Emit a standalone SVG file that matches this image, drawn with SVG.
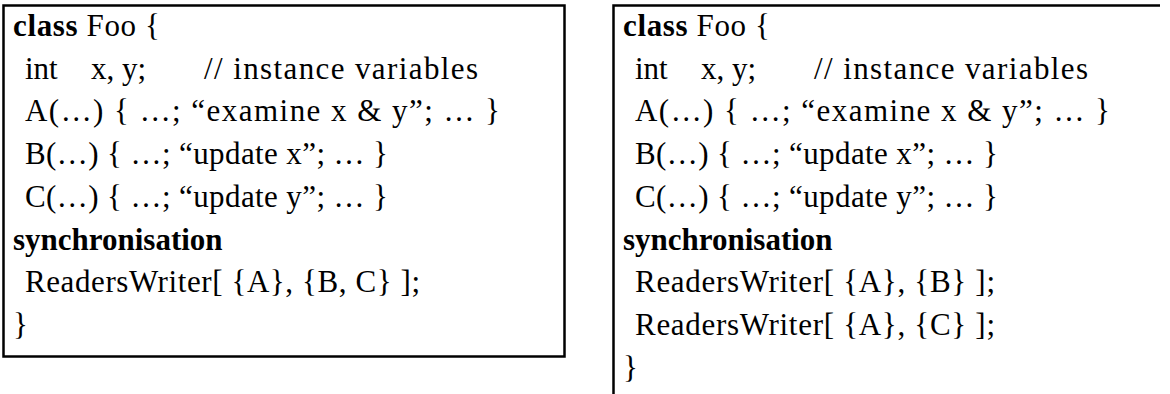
<svg xmlns="http://www.w3.org/2000/svg" width="1170" height="394" viewBox="0 0 1170 394">
<style>
.t{font-family:"Liberation Serif","Times New Roman",serif;font-size:31px;fill:#000}
.b{font-weight:bold}
.bd{fill:none;stroke:#000;stroke-width:2.5}
</style>
<rect width="1170" height="394" fill="#fff"/>
<g id="left">
<rect class="bd" x="3.5" y="5.5" width="561" height="351"/>
<text class="t" x="13" y="36" textLength="147" lengthAdjust="spacing"><tspan class="b">class</tspan> Foo {</text>
<text class="t" x="25" y="78.7">int</text>
<text class="t" x="91" y="78.7">x, y;</text>
<text class="t" x="204" y="78.7" textLength="274" lengthAdjust="spacing">// instance variables</text>
<text class="t" x="25" y="121.4" textLength="475" lengthAdjust="spacing">A(…) { …; “examine x &amp; y”; … }</text>
<text class="t" x="25" y="164" textLength="363" lengthAdjust="spacing">B(…) { …; “update x”; … }</text>
<text class="t" x="25" y="206.8" textLength="363" lengthAdjust="spacing">C(…) { …; “update y”; … }</text>
<text class="t b" x="13" y="249.5">synchronisation</text>
<text class="t" x="25" y="292" textLength="395" lengthAdjust="spacing">ReadersWriter[ {A}, {B, C} ];</text>
<text class="t" x="13" y="335">}</text>
</g>
<g id="right">
<path class="bd" d="M613.5 394V5.5H1160"/>
<text class="t" x="623" y="36" textLength="147" lengthAdjust="spacing"><tspan class="b">class</tspan> Foo {</text>
<text class="t" x="635" y="78.7">int</text>
<text class="t" x="701" y="78.7">x, y;</text>
<text class="t" x="814" y="78.7" textLength="274" lengthAdjust="spacing">// instance variables</text>
<text class="t" x="635" y="121.4" textLength="475" lengthAdjust="spacing">A(…) { …; “examine x &amp; y”; … }</text>
<text class="t" x="635" y="164" textLength="363" lengthAdjust="spacing">B(…) { …; “update x”; … }</text>
<text class="t" x="635" y="206.8" textLength="363" lengthAdjust="spacing">C(…) { …; “update y”; … }</text>
<text class="t b" x="623" y="249.5">synchronisation</text>
<text class="t" x="635" y="292" textLength="360" lengthAdjust="spacing">ReadersWriter[ {A}, {B} ];</text>
<text class="t" x="635" y="335" textLength="360" lengthAdjust="spacing">ReadersWriter[ {A}, {C} ];</text>
<text class="t" x="623" y="377.6">}</text>
</g>
</svg>
